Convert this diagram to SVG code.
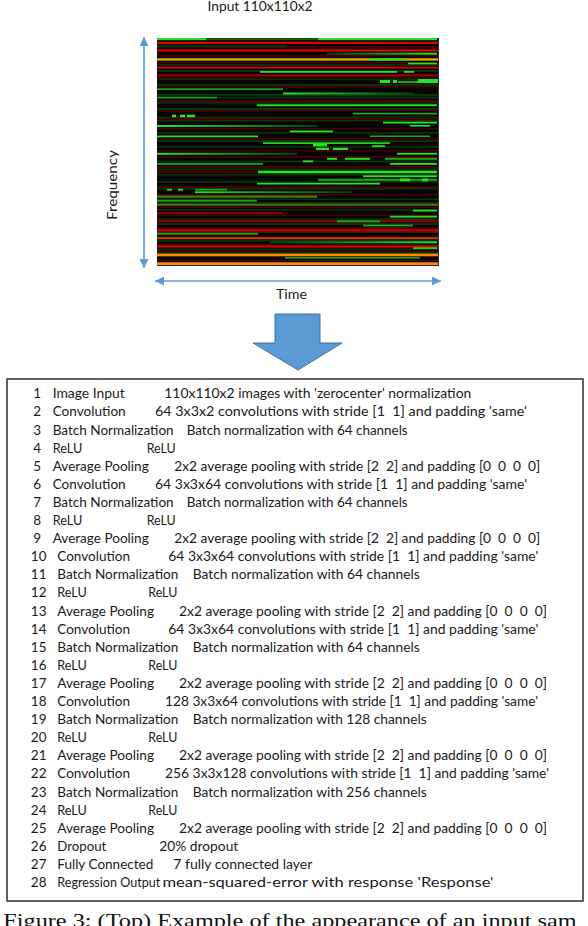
<svg xmlns="http://www.w3.org/2000/svg" width="588" height="926" viewBox="0 0 588 926">
<defs>
<style>
.t{font-family:Lato,"Open Sans","Liberation Sans",sans-serif;font-size:13.5px;fill:#1a1a1a}
.cap{font-family:"Liberation Serif","Times New Roman",serif;font-size:19px;fill:#111}
.ax{stroke:#5b9bd5;stroke-width:1.6;fill:none}
.g1{fill:#22e622}.g2{fill:#18a818}.g3{fill:#0f5e0f}.g4{fill:#0a330a}
.r1{fill:#e00000}.r2{fill:#a00000}.r3{fill:#4a0000}
.o1{fill:#ff8a00}.y1{fill:#f0b000}.ol{fill:#4a7a12}.or{fill:#c84400}
</style>
<marker id="ah" viewBox="0 0 10 10" refX="10" refY="5" markerWidth="9" markerHeight="9" markerUnits="userSpaceOnUse" orient="auto-start-reverse">
<path d="M0,0 L10,5 L0,10 z" fill="#5b9bd5"/>
</marker>
<linearGradient id="fadeR" x1="0" y1="0" x2="1" y2="0"><stop offset="0" stop-color="#22e622"/><stop offset="1" stop-color="#0a400a"/></linearGradient>
<linearGradient id="fadeL" x1="0" y1="0" x2="1" y2="0"><stop offset="0" stop-color="#0a400a"/><stop offset="1" stop-color="#22e622"/></linearGradient>
</defs>

<g id="title"><text class="t" x="260" y="11" text-anchor="middle" textLength="105" lengthAdjust="spacingAndGlyphs">Input 110x110x2</text></g>

<g id="spectrogram">
<rect x="157" y="38" width="282" height="228" fill="#050505"/>
<g class="r3">
<rect x="157" y="46" width="282" height="1.6"/><rect x="157" y="55" width="282" height="1.5"/><rect x="157" y="62" width="282" height="1.4"/>
<rect x="157" y="76.5" width="282" height="1.6"/><rect x="157" y="86" width="282" height="1.6"/><rect x="157" y="100" width="282" height="2"/>
<rect x="157" y="110" width="282" height="1.6"/><rect x="157" y="118" width="282" height="2"/><rect x="157" y="128" width="282" height="1.5"/>
<rect x="157" y="138" width="282" height="1.6"/><rect x="157" y="150" width="282" height="1.6"/><rect x="157" y="156" width="282" height="1.8"/>
<rect x="157" y="166" width="282" height="2"/><rect x="157" y="186" width="282" height="2"/><rect x="157" y="194" width="282" height="1.6"/>
<rect x="157" y="206.5" width="282" height="1.8"/><rect x="157" y="214.5" width="282" height="1.5"/><rect x="157" y="227" width="282" height="1.6"/>
<rect x="157" y="235.3" width="282" height="1.6"/><rect x="157" y="244" width="282" height="1.6"/><rect x="157" y="250.7" width="282" height="1.8"/><rect x="157" y="259.5" width="282" height="1.6"/>
</g>
<g class="g4">
<rect x="157" y="45" width="130" height="2.5"/><rect x="157" y="64" width="282" height="1.8"/><rect x="157" y="70" width="282" height="2"/>
<rect x="157" y="78.5" width="282" height="1.6"/><rect x="157" y="84" width="282" height="1.8"/><rect x="157" y="94" width="282" height="2"/>
<rect x="157" y="96.7" width="282" height="2"/><rect x="157" y="102" width="282" height="1.6"/><rect x="157" y="108" width="282" height="2"/>
<rect x="157" y="116.5" width="282" height="1.6"/><rect x="157" y="120" width="282" height="1.6"/><rect x="157" y="132" width="282" height="1.6"/>
<rect x="157" y="140" width="282" height="2"/><rect x="157" y="146" width="282" height="1.6"/><rect x="157" y="160.5" width="282" height="1.8"/>
<rect x="157" y="168.5" width="282" height="1.8"/><rect x="157" y="174" width="282" height="1.6"/><rect x="157" y="181" width="282" height="1.8"/>
<rect x="157" y="188" width="282" height="1.6"/><rect x="157" y="198.5" width="282" height="1.6"/><rect x="157" y="202" width="282" height="1.6"/>
<rect x="157" y="209" width="282" height="1.6"/><rect x="157" y="218.5" width="282" height="1.8"/><rect x="157" y="223" width="282" height="2"/>
<rect x="157" y="231.5" width="282" height="1.6"/><rect x="157" y="239.7" width="282" height="1.8"/><rect x="157" y="248.5" width="282" height="1.8"/><rect x="157" y="252" width="282" height="1.8"/>
</g>
<rect class="g1" x="157" y="38" width="49" height="2.2"/><rect class="g3" x="206" y="38" width="112" height="2.2"/><rect class="g1" x="318" y="38" width="119" height="2.2"/>
<rect class="r1" x="157" y="41.7" width="282" height="2.3"/>
<rect class="r1" x="157" y="49.3" width="282" height="2.3"/>
<rect fill="url(#fadeL)" x="327" y="52.7" width="110" height="2"/>
<rect class="y1" x="157" y="58.3" width="282" height="2.3"/><rect class="g1" x="370" y="58.3" width="37" height="2.3"/>
<rect class="g1" x="408" y="62.7" width="29" height="1.6"/>
<rect class="r1" x="157" y="66.7" width="282" height="1.8"/>
<rect class="g1" x="260" y="71" width="137" height="1.8"/><rect class="g1" x="404" y="71" width="10" height="1.8"/>
<rect class="r2" x="157" y="74.3" width="282" height="2"/>
<rect class="g1" x="380" y="80" width="10" height="3"/><rect class="g1" x="393" y="80" width="4" height="3"/><rect class="g1" x="418" y="79" width="20" height="4"/><rect class="g2" x="398" y="81" width="20" height="2"/>
<rect class="g2" x="157" y="88.3" width="126" height="1.8"/>
<rect fill="url(#fadeR)" x="283" y="92.5" width="130" height="2"/>
<rect class="g2" x="157" y="96.8" width="60" height="1.5"/>
<rect class="g1" x="257" y="104.3" width="180" height="1.9"/>
<rect class="g2" x="353" y="112.7" width="84" height="1.8"/>
<rect class="g1" x="172" y="114.7" width="4" height="2.5"/><rect class="g1" x="180" y="114.7" width="5" height="2.5"/><rect class="g1" x="187" y="114.7" width="8" height="2.5"/>
<rect class="g1" x="383" y="121.7" width="54" height="1.8"/>
<rect fill="url(#fadeR)" x="157" y="125" width="160" height="2"/><rect class="g1" x="410" y="125" width="20" height="1.6"/>
<rect class="g1" x="290" y="130.5" width="43" height="1.8"/>
<rect class="g1" x="157" y="135.5" width="101" height="1.8"/><rect class="g2" x="370" y="135.5" width="60" height="1.5"/>
<rect class="g1" x="263" y="142.3" width="127" height="1.6"/>
<rect class="g1" x="313" y="144" width="14" height="2.3"/><rect class="g1" x="372" y="145.3" width="13" height="1.8"/>
<rect class="g1" x="316" y="147.7" width="13" height="2.3"/><rect class="g1" x="333" y="147.7" width="15" height="2.3"/>
<rect fill="url(#fadeR)" x="157" y="152.8" width="140" height="2"/><rect class="g1" x="397" y="152.8" width="40" height="1.8"/>
<rect class="g1" x="327" y="157.8" width="10" height="2"/><rect class="g1" x="345" y="157.8" width="25" height="2"/><rect class="g2" x="385" y="157.8" width="52" height="2"/>
<rect class="g1" x="303" y="160.4" width="10" height="1.8"/>
<rect class="g2" x="157" y="163" width="106" height="1.8"/><rect class="g1" x="390" y="163" width="47" height="1.8"/>
<rect class="r3" x="157" y="170.7" width="101" height="2.6"/><rect class="g1" x="258" y="170.7" width="179" height="2.6"/>
<rect class="g1" x="363" y="175.3" width="74" height="1.8"/>
<rect class="g2" x="318" y="178.8" width="119" height="2"/><rect class="g1" x="400" y="178.5" width="10" height="2.8"/><rect class="g1" x="422" y="178.5" width="6" height="2.8"/>
<rect class="g1" x="257" y="182.8" width="123" height="1.7"/>
<rect class="g1" x="167" y="188.8" width="5" height="1.8"/><rect class="g1" x="178" y="188.8" width="5" height="1.8"/><rect class="g2" x="195" y="188.8" width="32" height="1.8"/>
<rect fill="url(#fadeR)" x="195" y="191.3" width="157" height="1.8"/>
<rect class="ol" x="157" y="195.5" width="160" height="2.2"/>
<rect class="g2" x="157" y="199.8" width="100" height="1.8"/>
<rect class="ol" x="157" y="203.7" width="282" height="2"/>
<rect class="g1" x="413" y="209.7" width="24" height="1.8"/>
<rect class="r2" x="157" y="212.3" width="126" height="1.8"/>
<rect class="g1" x="390" y="215.7" width="47" height="1.8"/>
<rect class="r2" x="157" y="220.3" width="282" height="2"/><rect class="g2" x="337" y="220.3" width="43" height="2"/>
<rect class="g2" x="363" y="224.6" width="50" height="1.8"/>
<rect fill="#b00000" x="157" y="228.8" width="282" height="3"/>
<rect class="g2" x="157" y="232.8" width="101" height="1.8"/>
<rect class="or" x="157" y="237.2" width="282" height="2"/>
<rect fill="url(#fadeL)" x="270" y="241.3" width="167" height="2"/>
<rect class="r1" x="157" y="245.5" width="282" height="2"/><rect class="g1" x="413" y="247.3" width="24" height="1.6"/>
<rect class="o1" x="157" y="253.6" width="282" height="2.7"/>
<rect class="g2" x="285" y="257" width="135" height="1.6"/>
<rect class="o1" x="157" y="262.3" width="282" height="2.7"/>
<line x1="438.5" y1="38" x2="438.5" y2="266" stroke="#333" stroke-width="1"/>
<line x1="157" y1="265.5" x2="439" y2="265.5" stroke="#222" stroke-width="1"/>
</g>

<g id="connectors">
<line class="ax" x1="144" y1="37" x2="144" y2="268" marker-start="url(#ah)" marker-end="url(#ah)"/>
<line class="ax" x1="155" y1="281" x2="441" y2="281" marker-start="url(#ah)" marker-end="url(#ah)"/>
</g>

<g id="freq-label"><text class="t" transform="translate(117,185) rotate(-90)" text-anchor="middle" textLength="70" lengthAdjust="spacingAndGlyphs">Frequency</text></g>
<g id="time-label"><text class="t" x="291.5" y="299.3" text-anchor="middle" textLength="31" lengthAdjust="spacingAndGlyphs">Time</text></g>

<g id="down-arrow"><polygon points="275,314 320,314 320,343 342,343 298,370 253,343 275,343" fill="#5b9bd5" stroke="#41719c" stroke-width="1"/></g>

<g id="layers">
<rect x="7" y="379" width="576" height="522" fill="none" stroke="#3a3a3a" stroke-width="1.6"/>
<g class="t">
<text x="41" y="398.3" text-anchor="end">1</text><text x="52.7" y="398.3" textLength="72" lengthAdjust="spacingAndGlyphs">Image Input</text><text x="164.3" y="398.3" textLength="307" lengthAdjust="spacingAndGlyphs">110x110x2 images with 'zerocenter' normalization</text>
<text x="41" y="416.4" text-anchor="end">2</text><text x="52.7" y="416.4" textLength="73" lengthAdjust="spacingAndGlyphs">Convolution</text><text x="155" y="416.4" textLength="372" lengthAdjust="spacingAndGlyphs">64 3x3x2 convolutions with stride [1&#160; 1] and padding 'same'</text>
<text x="41" y="434.5" text-anchor="end">3</text><text x="52.7" y="434.5" textLength="121" lengthAdjust="spacingAndGlyphs">Batch Normalization</text><text x="186.7" y="434.5" textLength="221" lengthAdjust="spacingAndGlyphs">Batch normalization with 64 channels</text>
<text x="41" y="452.6" text-anchor="end">4</text><text x="52.7" y="452.6" textLength="29.6" lengthAdjust="spacingAndGlyphs">ReLU</text><text x="146.7" y="452.6" textLength="29" lengthAdjust="spacingAndGlyphs">ReLU</text>
<text x="41" y="470.7" text-anchor="end">5</text><text x="52.7" y="470.7" textLength="96" lengthAdjust="spacingAndGlyphs">Average Pooling</text><text x="174.3" y="470.7" textLength="366" lengthAdjust="spacingAndGlyphs">2x2 average pooling with stride [2&#160; 2] and padding [0&#160; 0&#160; 0&#160; 0]</text>
<text x="41" y="488.8" text-anchor="end">6</text><text x="52.7" y="488.8" textLength="73" lengthAdjust="spacingAndGlyphs">Convolution</text><text x="155" y="488.8" textLength="372" lengthAdjust="spacingAndGlyphs">64 3x3x64 convolutions with stride [1&#160; 1] and padding 'same'</text>
<text x="41" y="506.9" text-anchor="end">7</text><text x="52.7" y="506.9" textLength="121" lengthAdjust="spacingAndGlyphs">Batch Normalization</text><text x="186.7" y="506.9" textLength="221" lengthAdjust="spacingAndGlyphs">Batch normalization with 64 channels</text>
<text x="41" y="525" text-anchor="end">8</text><text x="52.7" y="525" textLength="29.6" lengthAdjust="spacingAndGlyphs">ReLU</text><text x="146.7" y="525" textLength="29" lengthAdjust="spacingAndGlyphs">ReLU</text>
<text x="41" y="543.1" text-anchor="end">9</text><text x="52.7" y="543.1" textLength="96" lengthAdjust="spacingAndGlyphs">Average Pooling</text><text x="174.3" y="543.1" textLength="366" lengthAdjust="spacingAndGlyphs">2x2 average pooling with stride [2&#160; 2] and padding [0&#160; 0&#160; 0&#160; 0]</text>
<text x="46.5" y="561.2" text-anchor="end">10</text><text x="57.3" y="561.2" textLength="72.7" lengthAdjust="spacingAndGlyphs">Convolution</text><text x="168.3" y="561.2" textLength="370" lengthAdjust="spacingAndGlyphs">64 3x3x64 convolutions with stride [1&#160; 1] and padding 'same'</text>
<text x="46.5" y="579.3" text-anchor="end">11</text><text x="57.3" y="579.3" textLength="121" lengthAdjust="spacingAndGlyphs">Batch Normalization</text><text x="192.7" y="579.3" textLength="227" lengthAdjust="spacingAndGlyphs">Batch normalization with 64 channels</text>
<text x="46.5" y="597.4" text-anchor="end">12</text><text x="57.3" y="597.4" textLength="29.6" lengthAdjust="spacingAndGlyphs">ReLU</text><text x="148.3" y="597.4" textLength="29" lengthAdjust="spacingAndGlyphs">ReLU</text>
<text x="46.5" y="615.5" text-anchor="end">13</text><text x="57.3" y="615.5" textLength="96.7" lengthAdjust="spacingAndGlyphs">Average Pooling</text><text x="179" y="615.5" textLength="368" lengthAdjust="spacingAndGlyphs">2x2 average pooling with stride [2&#160; 2] and padding [0&#160; 0&#160; 0&#160; 0]</text>
<text x="46.5" y="633.6" text-anchor="end">14</text><text x="57.3" y="633.6" textLength="72.7" lengthAdjust="spacingAndGlyphs">Convolution</text><text x="168.3" y="633.6" textLength="370" lengthAdjust="spacingAndGlyphs">64 3x3x64 convolutions with stride [1&#160; 1] and padding 'same'</text>
<text x="46.5" y="651.7" text-anchor="end">15</text><text x="57.3" y="651.7" textLength="121" lengthAdjust="spacingAndGlyphs">Batch Normalization</text><text x="192.7" y="651.7" textLength="227" lengthAdjust="spacingAndGlyphs">Batch normalization with 64 channels</text>
<text x="46.5" y="669.8" text-anchor="end">16</text><text x="57.3" y="669.8" textLength="29.6" lengthAdjust="spacingAndGlyphs">ReLU</text><text x="148.3" y="669.8" textLength="29" lengthAdjust="spacingAndGlyphs">ReLU</text>
<text x="46.5" y="687.9" text-anchor="end">17</text><text x="57.3" y="687.9" textLength="96.7" lengthAdjust="spacingAndGlyphs">Average Pooling</text><text x="179" y="687.9" textLength="368" lengthAdjust="spacingAndGlyphs">2x2 average pooling with stride [2&#160; 2] and padding [0&#160; 0&#160; 0&#160; 0]</text>
<text x="46.5" y="706" text-anchor="end">18</text><text x="57.3" y="706" textLength="72.7" lengthAdjust="spacingAndGlyphs">Convolution</text><text x="165" y="706" textLength="373" lengthAdjust="spacingAndGlyphs">128 3x3x64 convolutions with stride [1&#160; 1] and padding 'same'</text>
<text x="46.5" y="724.1" text-anchor="end">19</text><text x="57.3" y="724.1" textLength="121" lengthAdjust="spacingAndGlyphs">Batch Normalization</text><text x="192.7" y="724.1" textLength="234" lengthAdjust="spacingAndGlyphs">Batch normalization with 128 channels</text>
<text x="46.5" y="742.2" text-anchor="end">20</text><text x="57.3" y="742.2" textLength="29.6" lengthAdjust="spacingAndGlyphs">ReLU</text><text x="148.3" y="742.2" textLength="29" lengthAdjust="spacingAndGlyphs">ReLU</text>
<text x="46.5" y="760.3" text-anchor="end">21</text><text x="57.3" y="760.3" textLength="96.7" lengthAdjust="spacingAndGlyphs">Average Pooling</text><text x="179" y="760.3" textLength="368" lengthAdjust="spacingAndGlyphs">2x2 average pooling with stride [2&#160; 2] and padding [0&#160; 0&#160; 0&#160; 0]</text>
<text x="46.5" y="778.4" text-anchor="end">22</text><text x="57.3" y="778.4" textLength="72.7" lengthAdjust="spacingAndGlyphs">Convolution</text><text x="165" y="778.4" textLength="384" lengthAdjust="spacingAndGlyphs">256 3x3x128 convolutions with stride [1&#160; 1] and padding 'same'</text>
<text x="46.5" y="796.5" text-anchor="end">23</text><text x="57.3" y="796.5" textLength="121" lengthAdjust="spacingAndGlyphs">Batch Normalization</text><text x="192.7" y="796.5" textLength="234" lengthAdjust="spacingAndGlyphs">Batch normalization with 256 channels</text>
<text x="46.5" y="814.6" text-anchor="end">24</text><text x="57.3" y="814.6" textLength="29.6" lengthAdjust="spacingAndGlyphs">ReLU</text><text x="148.3" y="814.6" textLength="29" lengthAdjust="spacingAndGlyphs">ReLU</text>
<text x="46.5" y="832.7" text-anchor="end">25</text><text x="57.3" y="832.7" textLength="96.7" lengthAdjust="spacingAndGlyphs">Average Pooling</text><text x="179" y="832.7" textLength="368" lengthAdjust="spacingAndGlyphs">2x2 average pooling with stride [2&#160; 2] and padding [0&#160; 0&#160; 0&#160; 0]</text>
<text x="46.5" y="850.8" text-anchor="end">26</text><text x="57.3" y="850.8" textLength="49" lengthAdjust="spacingAndGlyphs">Dropout</text><text x="159.3" y="850.8" textLength="79" lengthAdjust="spacingAndGlyphs">20% dropout</text>
<text x="46.5" y="868.9" text-anchor="end">27</text><text x="57.3" y="868.9" textLength="96" lengthAdjust="spacingAndGlyphs">Fully Connected</text><text x="173.3" y="868.9" textLength="139" lengthAdjust="spacingAndGlyphs">7 fully connected layer</text>
<text x="46.5" y="887" text-anchor="end">28</text><text x="57.3" y="887" textLength="103" lengthAdjust="spacingAndGlyphs">Regression Output</text><text x="162.5" y="887" textLength="331" lengthAdjust="spacingAndGlyphs">mean-squared-error with response 'Response'</text>
</g>
</g>

<g id="caption"><text class="cap" x="3.3" y="927" textLength="573.4" lengthAdjust="spacingAndGlyphs">Figure 3: (Top) Example of the appearance of an input sam</text></g>
</svg>
